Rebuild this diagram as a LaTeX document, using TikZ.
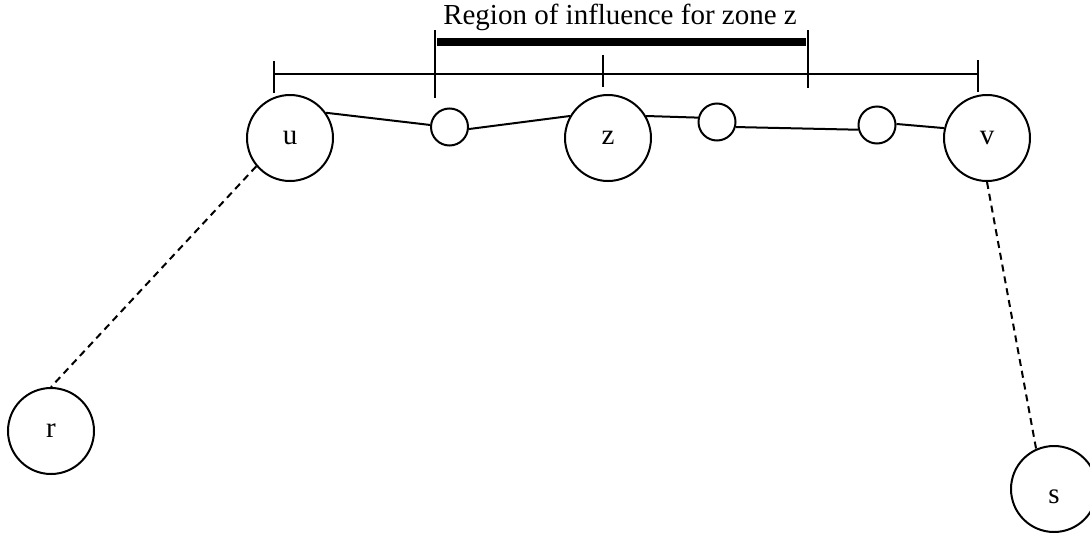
\documentclass[tikz,border=0pt]{standalone}
\usepackage{fontspec}
\setmainfont{Liberation Serif}
\begin{document}
\begin{tikzpicture}[x=1pt,y=-1pt,line width=2pt,
  lbl/.style={font=\fontsize{29}{32}\selectfont},
  big/.style={circle,draw,minimum size=86pt,inner sep=0pt,lbl},
  small/.style={circle,draw,minimum size=37pt,inner sep=0pt},
  dashline/.style={dash pattern=on 7pt off 5pt},
  scaleline/.style={line width=2pt},
  thickbar/.style={line width=8pt}]
\useasboundingbox (0,0) rectangle (1090,533);
% title
\node[anchor=base,lbl,inner sep=0pt] (title) at (620,24) {Region of influence for zone z};
% region of influence bar
\draw[thickbar] (437,42) -- (806,42);
\draw[scaleline] (435,30) -- (435,98);
\draw[scaleline] (808,30) -- (808,88);
% scale line
\draw[scaleline] (274,74) -- (978,74);
\draw[scaleline] (274,61) -- (274,93);
\draw[scaleline] (603,55) -- (603,87);
\draw[scaleline] (978,60) -- (978,92);
% nodes
\node[big] (u) at (290,138) {u};
\node[big] (z) at (608,138) {z};
\node[big] (v) at (987,138) {v};
\node[big] (r) at (51,431) {r};
\node[big,label={[lbl,yshift=-8pt]center:s}] (s) at (1054,489) {};
\node[small] (c1) at (449.5,127) {};
\node[small] (c2) at (717,122) {};
\node[small] (c3) at (877,125) {};
% connectors
\draw (u.35) -- (c1.174);
\draw (c1.-6) -- (z.150);
\draw (z.30) -- (c2.167);
\draw (c2.-15) -- (c3.-166);
\draw (c3.3) -- (v.167);
\draw[dashline] (u.220) -- (r.north);
\draw[dashline] (v.south) -- (s.114);
\end{tikzpicture}
\end{document}
